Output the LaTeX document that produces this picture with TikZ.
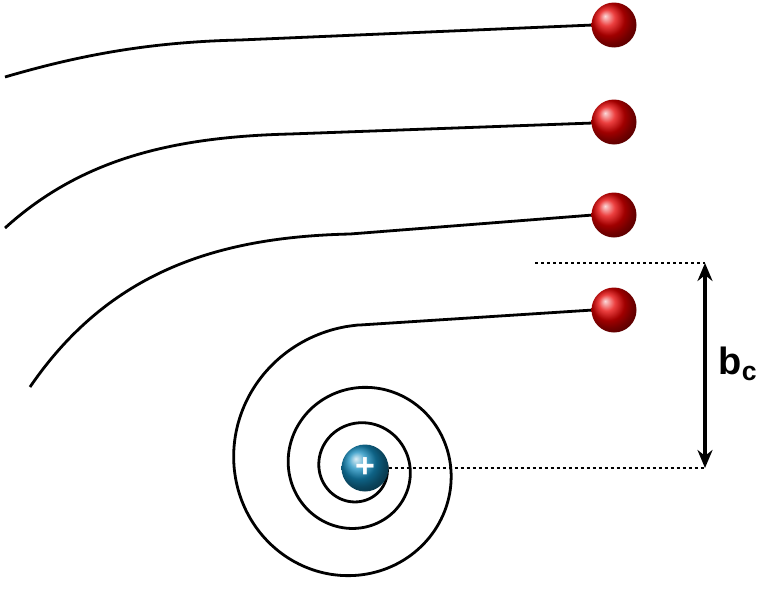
\documentclass[tikz,border=0pt]{standalone}
\usepackage{fontspec}
\setsansfont{Liberation Sans}
\usetikzlibrary{arrows.meta}
\definecolor{nucl}{RGB}{20,140,190}
\begin{document}
\begin{tikzpicture}[x=1pt,y=-1pt,
  traj/.style={line width=2.8pt,line join=round},
  electron/.style={circle,minimum size=45pt,inner sep=0pt,ball color=red!90!black},
  nucleus/.style={circle,minimum size=47pt,inner sep=0pt,ball color=nucl,text=white,font=\sffamily\bfseries\fontsize{34}{34}\selectfont},
  dotline/.style={line width=2.4pt,dash pattern=on 3pt off 3pt}]
\useasboundingbox (0,0) rectangle (760,589);
% spiral
\draw[traj] (593,310) -- (360,325)
  -- plot[domain=0:1000,samples=200,smooth,variable=\t]
  ({358+143*exp(-0.0016*\t)*cos(\t+90)},{468-143*exp(-0.0016*\t)*sin(\t+90)});
\draw[traj] (5,77) .. controls (80,55) and (150,42) .. (240,40) -- (593,25);
\draw[traj] (5,228) .. controls (80,160) and (170,137) .. (290,134) -- (593,123);
\draw[traj] (30,387) .. controls (110,270) and (220,237) .. (350,234) -- (593,215);
\node[electron] (e1) at (614,25) {};
\node[electron] (e2) at (614,122) {};
\node[electron] (e3) at (614,215) {};
\node[electron] (e4) at (614,310) {};
\node[nucleus] (n) at (365,468) {+};
\coordinate (t1) at (535,263);
\coordinate (t2) at (705,263);
\coordinate (b2) at (705,468);
\draw[dotline] (t1) -- (t2);
\draw[dotline] (n.east) -- (b2);
\draw[line width=3.6pt,{Stealth[length=18pt,width=15pt]}-{Stealth[length=18pt,width=15pt]}] (t2) -- (b2);
\node[font=\sffamily\bfseries\fontsize{38}{38}\selectfont] (lab) at (738,364) {b\textsubscript{c}};
\end{tikzpicture}
\end{document}
